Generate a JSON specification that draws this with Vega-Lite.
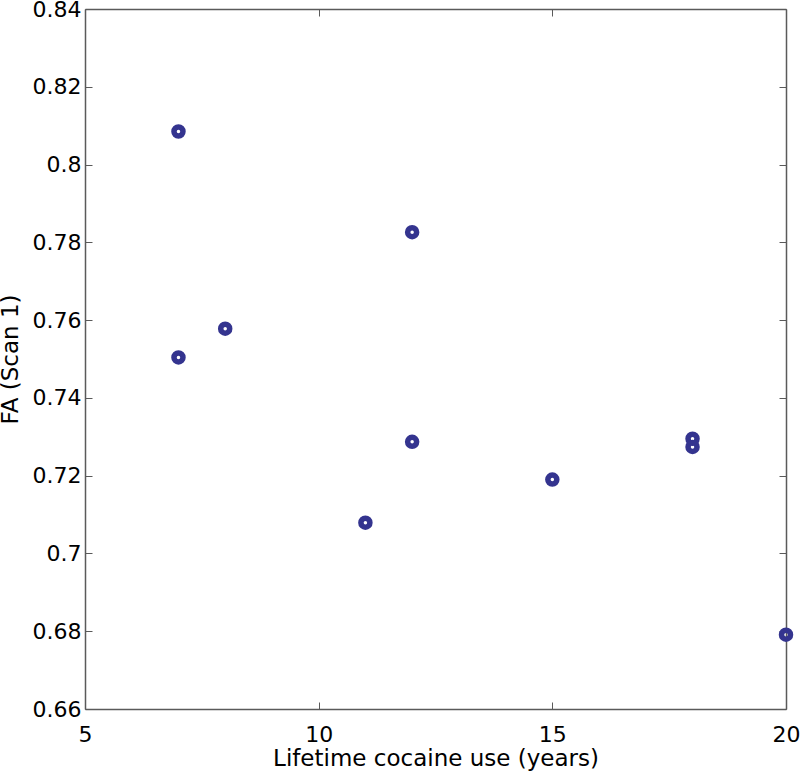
{
  "$schema": "https://vega.github.io/schema/vega-lite/v6.json",
  "autosize": "none",
  "width": 701,
  "height": 700,
  "padding": {"left": 85, "top": 9, "right": 14, "bottom": 69},
  "background": "white",
  "config": {
    "view": {"stroke": null},
    "axis": {
      "grid": false,
      "domainColor": "#5a5a5a",
      "domainWidth": 1.5,
      "tickColor": "#5a5a5a",
      "tickWidth": 1,
      "tickSize": -7,
      "labelFont": "DejaVu Sans",
      "labelFontSize": 22,
      "labelColor": "black",
      "titleFont": "DejaVu Sans",
      "titleFontSize": 23,
      "titleFontWeight": "normal",
      "titleColor": "black",
      "labelFlush": false,
      "labelOverlap": false
    }
  },
  "data": {
    "values": [
      {"years": 7, "fa": 0.8085},
      {"years": 7, "fa": 0.7504},
      {"years": 8, "fa": 0.7578},
      {"years": 11, "fa": 0.7079},
      {"years": 12, "fa": 0.7826},
      {"years": 12, "fa": 0.7287},
      {"years": 15, "fa": 0.7190},
      {"years": 18, "fa": 0.7295},
      {"years": 18, "fa": 0.7274},
      {"years": 20, "fa": 0.6791}
    ]
  },
  "layer": [
    {
      "mark": {"type": "point", "shape": "circle", "filled": false, "stroke": "#34348f", "strokeWidth": 5.5, "size": 81, "opacity": 1, "clip": false},
      "encoding": {
        "x": {
          "field": "years", "type": "quantitative",
          "scale": {"domain": [5, 20], "nice": false, "zero": false},
          "axis": {"orient": "bottom", "values": [5, 10, 15, 20], "title": "Lifetime cocaine use (years)", "labelPadding": 22, "titlePadding": 2}
        },
        "y": {
          "field": "fa", "type": "quantitative",
          "scale": {"domain": [0.66, 0.84], "nice": false, "zero": false},
          "axis": {"orient": "left", "values": [0.66, 0.68, 0.7, 0.72, 0.74, 0.76, 0.78, 0.8, 0.82, 0.84], "format": ".2~f", "title": "FA (Scan 1)", "labelPadding": 11, "titlePadding": 10}
        }
      }
    },
    {
      "mark": {"type": "point", "opacity": 0},
      "encoding": {
        "x": {
          "field": "years", "type": "quantitative",
          "axis": {"orient": "top", "values": [5, 10, 15, 20], "labels": false, "title": null}
        },
        "y": {
          "field": "fa", "type": "quantitative",
          "axis": {"orient": "right", "values": [0.66, 0.68, 0.7, 0.72, 0.74, 0.76, 0.78, 0.8, 0.82, 0.84], "labels": false, "title": null}
        }
      }
    }
  ],
  "resolve": {"axis": {"x": "independent", "y": "independent"}}
}
